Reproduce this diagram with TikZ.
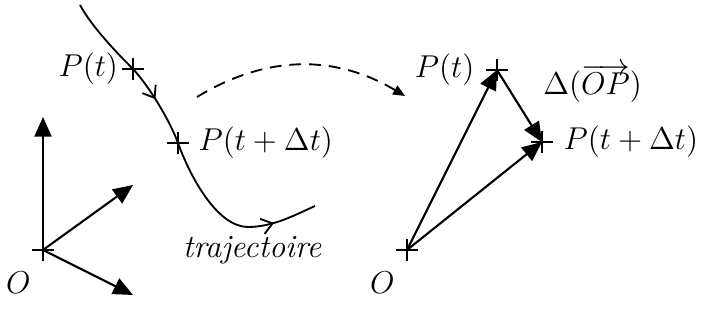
\documentclass[tikz,border=0pt]{standalone}
\usepackage{tikz}
\usetikzlibrary{arrows.meta, positioning, decorations.markings}
\tikzset{
  vect/.style     = {line width=0.8pt, -{Triangle[length=7.5pt,width=6.5pt]}},
  traj/.style     = {line width=0.7pt},
  dasharrow/.style = {line width=0.7pt, dash pattern=on 4.5pt off 3pt,
                      -{Triangle[length=4.5pt,width=3.8pt]}},
  lbl/.style      = {inner sep=0pt, font=\fontsize{12.3pt}{15pt}\selectfont},
  croix/.pic      = {\draw[line width=0.45pt] (-11,0) -- (11,0) (0,-11) -- (0,11);},
}

\begin{document}
\begin{tikzpicture}[x=0.38pt, y=0.38pt]
    \useasboundingbox (0,0) rectangle (702,329);

    %% Left part: frame and trajectory
    \coordinate (O1)  at (43,79);
    \coordinate (ex)  at (43,212);
    \coordinate (ey)  at (133,144);
    \coordinate (ez)  at (133,34);
    \coordinate (Pt)  at (133,260);
    \coordinate (Pdt) at (178,186);

    \draw[vect] (O1) -- (ex);
    \draw[vect] (O1) -- (ey);
    \draw[vect] (O1) -- (ez);

    \draw[traj, postaction={decorate}, decoration={markings,
        mark=at position 0.34 with {\arrow{Straight Barb[length=4pt,width=6pt]}},
        mark=at position 0.875 with {\arrow{Straight Barb[length=4pt,width=6pt]}}}]
      (80,324) .. controls (92,302) and (116,277) .. (Pt)
               .. controls (149,243) and (170,208) .. (Pdt)
               .. controls (191,150) and (218,102) .. (248,102)
               .. controls (273,102) and (295,114) .. (315,123);

    \pic at (O1)  {croix};
    \pic at (Pt)  {croix};
    \pic at (Pdt) {croix};

    \node[lbl, below left=8pt and 4.5pt of O1] (lO1) {$O$};
    \node[lbl, left=5.5pt of Pt]   (lPt)  {$P(t)$};
    \node[lbl, right=7.6pt of Pdt] (lPdt) {$P(t+\Delta t)$};
    \node[lbl] (ltraj) at (252,79) {\itshape trajectoire};

    %% Dashed transition arrow
    \coordinate (dfrom) at (197,232);
    \coordinate (dto)   at (405,233);
    \draw[dasharrow] (dfrom) to[bend left=31] (dto);

    %% Right part: position vectors
    \coordinate (O2) at (407,79);
    \coordinate (Q1) at (497,259);
    \coordinate (Q2) at (542,187);

    \draw[vect] (O2) -- (Q1);
    \draw[vect] (O2) -- (Q2);
    \draw[vect] (Q1) -- (Q2)
      node[lbl, midway, anchor=south west, xshift=8.7pt, yshift=1pt] (ldelta)
      {$\Delta(\overrightarrow{OP})$};

    \pic at (O2) {croix};
    \pic at (Q1) {croix};
    \pic at (Q2) {croix};

    \node[lbl, below left=8pt and 4.5pt of O2] (lO2) {$O$};
    \node[lbl, left=8.4pt of Q1]  (lQ1) {$P(t)$};
    \node[lbl, right=8pt of Q2]   (lQ2) {$P(t+\Delta t)$};

  \end{tikzpicture}
\end{document}
